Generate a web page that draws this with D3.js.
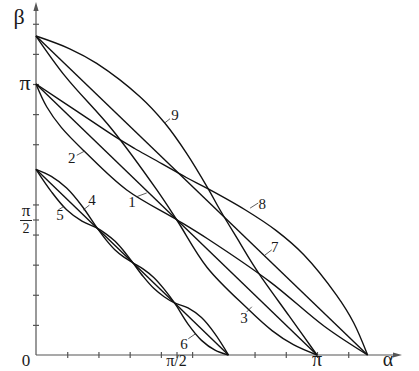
<!DOCTYPE html>
<html lang="en">
<head>
<meta charset="UTF-8">
<title>alpha-beta curves</title>
<style>
  body { margin: 0; background: #fff; }
  svg { display: block; }
  .lbl { font-family: "Liberation Serif", "DejaVu Serif", serif; fill: #1a1a1a; }
</style>
</head>
<body>
<div id="chart"></div>
<script src="https://d3js.org/d3.v7.min.js"></script>
<script>
// all values in units of pi
var xTicks = [1/9, 2/9, 3/9, 4/9, 5/9, 7/9, 8/9, 1, 10/9, 0.5];
var yTicks = [1/9, 2/9, 3/9, 4/9, 5/9, 7/9, 8/9, 1, 10/9, 11/9, 0.5];

var curve1 = [[0, 1], [1, 0]];
var curve7 = [[0, 1.177], [1.18, 0]];
var curve2 = [[0, 1], [0.038, 0.916], [0.09, 0.84], [0.174, 0.75], [0.323, 0.609], [0.5, 0.5],
              [0.609, 0.43], [0.833, 0.27], [1.027, 0.105], [1.18, 0]];
var curve3 = [[0, 1.177], [0.105, 1.027], [0.27, 0.833], [0.43, 0.609], [0.5, 0.5], [0.609, 0.323],
              [0.75, 0.174], [0.84, 0.09], [0.916, 0.038], [1, 0]];
var curve8 = [[0, 1], [0.145, 0.9], [0.29, 0.8], [0.351, 0.762], [0.413, 0.726], [0.535, 0.655],
              [0.613, 0.613], [0.744, 0.536], [0.855, 0.459], [0.953, 0.37], [1.07, 0.22],
              [1.13, 0.12], [1.18, 0]];
var curve9 = [[0, 1.177], [0.12, 1.13], [0.216, 1.076], [0.37, 0.953], [0.459, 0.855], [0.536, 0.744],
              [0.613, 0.613], [0.655, 0.535], [0.726, 0.413], [0.762, 0.351], [0.8, 0.29],
              [0.9, 0.145], [1, 0]];
var curve4 = [[0, 0.685], [0.0545, 0.659], [0.109, 0.616], [0.1635, 0.55], [0.218, 0.468],
              [0.25, 0.424], [0.2815, 0.3875], [0.313, 0.361], [0.345, 0.34],
              [0.382, 0.317], [0.419, 0.286], [0.456, 0.243], [0.493, 0.192],
              [0.541, 0.114], [0.589, 0.054], [0.637, 0.018], [0.685, 0]];
var curve5 = [[0, 0.685], [0.0545, 0.603], [0.109, 0.536], [0.1635, 0.494], [0.218, 0.468],
              [0.25, 0.446], [0.2815, 0.4195], [0.313, 0.383], [0.345, 0.34],
              [0.382, 0.289], [0.419, 0.246], [0.456, 0.215], [0.493, 0.192],
              [0.541, 0.174], [0.589, 0.138], [0.637, 0.078], [0.685, 0]];
var curve6 = [[0, 0.685], [0.685, 0]];

var curves = [curve1, curve2, curve3, curve4, curve5, curve6, curve7, curve8, curve9];

// number labels: text, position, leader line (all in pi units)
var labels = [
  {t: "9", at: [0.495, 0.885], lead: [[0.459, 0.857], [0.477, 0.872]]},
  {t: "2", at: [0.127, 0.727], lead: [[0.145, 0.737], [0.174, 0.753]]},
  {t: "1", at: [0.342, 0.565], lead: [[0.358, 0.584], [0.394, 0.598]]},
  {t: "4", at: [0.199, 0.572], lead: [[0.19, 0.553], [0.168, 0.535]]},
  {t: "5", at: [0.085, 0.516], lead: [[0.079, 0.535], [0.097, 0.547]]},
  {t: "6", at: [0.527, 0.042], lead: [[0.542, 0.06], [0.566, 0.077]]},
  {t: "7", at: [0.85, 0.4], lead: [[0.815, 0.369], [0.839, 0.388]]},
  {t: "8", at: [0.805, 0.558], lead: [[0.762, 0.542], [0.791, 0.561]]},
  {t: "3", at: [0.74, 0.136], lead: [[0.75, 0.159], [0.768, 0.178]]}
];

var W = 419, H = 371;
var x = d3.scaleLinear().domain([0, 1]).range([36, 317]);
var y = d3.scaleLinear().domain([0, 1]).range([355, 84]);

var svg = d3.select("#chart").append("svg")
    .attr("width", W)
    .attr("height", H);

svg.append("rect").attr("width", W).attr("height", H).attr("fill", "#fff");

// axes
var xAxis = svg.append("g")
    .attr("transform", "translate(0," + y(0) + ")")
    .call(d3.axisBottom(x).tickValues(xTicks).tickSize(0).tickFormat(""));
xAxis.select(".domain").remove();
xAxis.selectAll(".tick line").attr("y1", -3).attr("y2", 3)
    .attr("stroke", "#555").attr("stroke-width", 1.2);

var yAxis = svg.append("g")
    .attr("transform", "translate(" + x(0) + ",0)")
    .call(d3.axisLeft(y).tickValues(yTicks).tickSize(0).tickFormat(""));
yAxis.select(".domain").remove();
yAxis.selectAll(".tick line").attr("x1", -3).attr("x2", 3)
    .attr("stroke", "#555").attr("stroke-width", 1.2);

svg.append("line")
    .attr("x1", x(0)).attr("y1", y(0)).attr("x2", 398).attr("y2", y(0))
    .attr("stroke", "#555").attr("stroke-width", 1.2);
svg.append("line")
    .attr("x1", x(0)).attr("y1", y(0)).attr("x2", x(0)).attr("y2", 6)
    .attr("stroke", "#555").attr("stroke-width", 1.2);
svg.append("path")
    .attr("d", "M402," + y(0) + "L393," + (y(0) - 2.6) + "L393," + (y(0) + 2.6) + "Z")
    .attr("fill", "#555");
svg.append("path")
    .attr("d", "M" + x(0) + ",2L" + (x(0) - 2.6) + ",11L" + (x(0) + 2.6) + ",11Z")
    .attr("fill", "#555");

// curves
var line = d3.line()
    .x(d => x(d[0]))
    .y(d => y(d[1]))
    .curve(d3.curveCatmullRom.alpha(0.5));

svg.selectAll(".crv")
    .data(curves)
    .enter()
    .append("path")
    .attr("class", "crv")
    .attr("d", line)
    .attr("fill", "none")
    .attr("stroke", "#111")
    .attr("stroke-width", 1.4);

// curve numbers
svg.selectAll(".lead")
    .data(labels)
    .enter()
    .append("line")
    .attr("class", "lead")
    .attr("x1", d => x(d.lead[0][0])).attr("y1", d => y(d.lead[0][1]))
    .attr("x2", d => x(d.lead[1][0])).attr("y2", d => y(d.lead[1][1]))
    .attr("stroke", "#333").attr("stroke-width", 0.8);

svg.selectAll(".num")
    .data(labels)
    .enter()
    .append("text")
    .attr("class", "lbl num")
    .attr("x", d => x(d.at[0]))
    .attr("y", d => y(d.at[1]))
    .attr("text-anchor", "middle")
    .attr("dy", "0.35em")
    .style("font-size", "15px")
    .text(d => d.t);

// axis labels
function label(t, px, py, size) {
  svg.append("text")
      .attr("class", "lbl")
      .attr("x", px).attr("y", py)
      .attr("text-anchor", "middle")
      .style("font-size", size + "px")
      .text(t);
}
label("\u03b2", 19, 24, 22);
label("\u03c0", 25, 90, 22);
label("0", 26, 366, 17);
label("\u03c0/2", x(0.5), 366, 16);
label("\u03c0", x(1), 366, 20);
label("\u03b1", 388, 366, 20);

// pi over 2 on the beta axis
label("\u03c0", 26, 216, 17);
label("2", 26, 233, 14);
svg.append("line").attr("x1", 20).attr("x2", 32).attr("y1", 220.5).attr("y2", 220.5)
    .attr("stroke", "#222").attr("stroke-width", 1);
</script>
</body>
</html>
